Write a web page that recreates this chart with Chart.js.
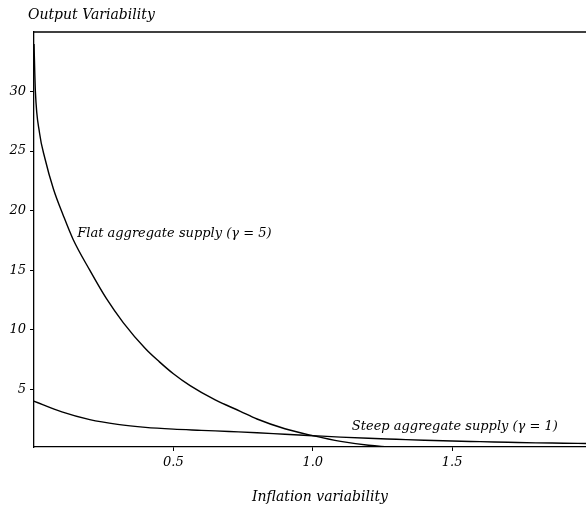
<!DOCTYPE html>
<html>
<head>
<meta charset="utf-8">
<script src="https://cdn.jsdelivr.net/npm/chart.js@4"></script>
<style>
  body { margin: 0; background: #fff; }
  #wrap { width: 586px; height: 506px; }
</style>
</head>
<body>
<div id="wrap"><canvas id="tradeoff"></canvas></div>
<script>
// values
const flatX = [0, 0.005, 0.02, 0.039, 0.07, 0.105, 0.14, 0.2, 0.26, 0.32, 0.4, 0.45, 0.5, 0.56, 0.65, 0.74, 0.8, 0.9, 1.0, 1.1, 1.2, 1.3, 1.4, 1.5];
const flatY = [34, 30, 26.5, 24.4, 21.8, 19.6, 17.6, 15.0, 12.6, 10.6, 8.4, 7.3, 6.3, 5.3, 4.1, 3.15, 2.5, 1.68, 1.1, 0.62, 0.3, 0.12, 0.04, 0.02];
const steepX = [0, 0.1, 0.2, 0.3, 0.4, 0.5, 0.6, 0.7, 0.8, 0.9, 1.0, 1.1, 1.2, 1.3, 1.4, 1.5, 1.6, 1.7, 1.8, 1.9, 1.98];
const steepY = [4.0, 3.1, 2.45, 2.05, 1.8, 1.65, 1.55, 1.45, 1.35, 1.22, 1.1, 0.98, 0.88, 0.8, 0.72, 0.65, 0.6, 0.55, 0.5, 0.47, 0.44];
const xTicks = [0.5, 1.0, 1.5];
const yTicks = [5, 10, 15, 20, 25, 30];

const font = { family: 'DejaVu Serif', style: 'italic', size: 13 };

const labelsPlugin = {
  id: 'labels',
  afterDraw(chart) {
    const ctx = chart.ctx;
    const a = chart.chartArea;
    const x = chart.scales.x, y = chart.scales.y;
    ctx.save();
    // top frame line
    ctx.strokeStyle = '#000';
    ctx.lineWidth = 1.3;
    ctx.beginPath();
    ctx.moveTo(a.left, a.top);
    ctx.lineTo(a.right, a.top);
    ctx.stroke();
    ctx.fillStyle = '#000';
    ctx.textBaseline = 'middle';
    ctx.font = 'italic 14px "DejaVu Serif"';
    ctx.fillText('Output Variability', 28, 15);
    ctx.textAlign = 'center';
    ctx.fillText('Inflation variability', 320, 497);
    ctx.textAlign = 'left';
    ctx.font = 'italic 13px "DejaVu Serif"';
    ctx.fillText('Flat aggregate supply (\u03b3 = 5)', x.getPixelForValue(0.155), y.getPixelForValue(18.1));
    ctx.fillText('Steep aggregate supply (\u03b3 = 1)', x.getPixelForValue(1.14), y.getPixelForValue(1.85));
    ctx.restore();
  }
};

new Chart(document.getElementById('tradeoff'), {
  type: 'line',
  data: {
    datasets: [
      {
        label: 'Flat',
        data: flatX.map((v, i) => ({ x: v, y: flatY[i] })),
        borderColor: '#000',
        borderWidth: 1.4,
        pointRadius: 0,
        cubicInterpolationMode: 'monotone'
      },
      {
        label: 'Steep',
        data: steepX.map((v, i) => ({ x: v, y: steepY[i] })),
        borderColor: '#000',
        borderWidth: 1.4,
        pointRadius: 0,
        cubicInterpolationMode: 'monotone'
      }
    ]
  },
  options: {
    responsive: true,
    maintainAspectRatio: false,
    animation: false,
    layout: { padding: { top: 32, right: 0, left: 0, bottom: 0 } },
    plugins: { legend: { display: false }, tooltip: { enabled: false } },
    scales: {
      x: {
        type: 'linear',
        min: 0,
        max: 1.98,
        afterBuildTicks: s => { s.ticks = xTicks.map(v => ({ value: v })); },
        afterFit: s => { s.height = 59; },
        border: { color: '#000', width: 1.3 },
        grid: { drawOnChartArea: false, color: '#000', tickLength: 4 },
        ticks: { color: '#000', font: font, padding: 4, maxRotation: 0, callback: v => v.toFixed(1) }
      },
      y: {
        min: 0.15,
        max: 35,
        afterBuildTicks: s => { s.ticks = yTicks.map(v => ({ value: v })); },
        afterFit: s => { s.width = 34; },
        border: { color: '#000', width: 1.3 },
        grid: { drawOnChartArea: false, color: '#000', tickLength: 4 },
        ticks: { color: '#000', font: font, padding: 4 }
      }
    }
  },
  plugins: [labelsPlugin]
});
</script>
</body>
</html>
